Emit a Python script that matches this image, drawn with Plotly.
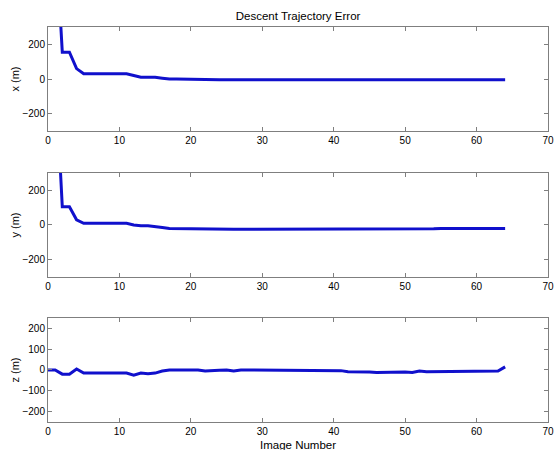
import plotly.graph_objects as go

image_number = list(range(0, 65))

x_err = [1500, 880, 155, 155, 60, 30, 30, 30, 30, 30, 30, 30, 20, 10, 10, 10, 5, 0, 0, 0,
         0, 0, -2, -3, -4, -5, -5, -6, -6, -7, -7, -6, -7, -6, -6, -6, -6, -7, -6, -6,
         -6, -6, -7, -6, -6, -7, -6, -6, -6, -6, -6, -6, -6, -6, -6, -6, -5, -5, -5, -5,
         -5, -5, -5, -5, -5]
y_err = [1500, 900, 105, 105, 30, 10, 10, 10, 10, 10, 10, 10, 0, -5, -5, -8, -15, -20, -20, -20,
         -20, -20, -20, -21, -22, -23, -24, -25, -25, -25, -25, -24, -25, -24, -24, -24, -24, -25, -24, -24,
         -25, -24, -24, -24, -24, -23, -23, -23, -23, -23, -23, -22, -22, -22, -22, -20, -20, -20, -20, -20,
         -20, -20, -20, -20, -20]
z_err = [0, 0, -20, -20, 5, -15, -15, -15, -15, -15, -15, -15, -25, -15, -18, -15, -5, 0, 0, 0,
         0, 0, -5, -2, -1, 0, -5, 0, 0, 0, 0, 0, 0, 0, 0, 0, 0, 0, -3, -3,
         -3, -3, -8, -8, -8, -10, -12, -11, -11, -10, -10, -12, -5, -8, -8, -5, -5, -5, -5, -5,
         -5, -5, -5, -5, 15]

title_text = "Descent Trajectory Error"
y_labels = ["x (m)", "y (m)", "z (m)"]
x_label = "Image Number"

line_color = "#1010cc"
font_family = "Liberation Sans, Arial, sans-serif"

fig = go.Figure()
series = [x_err, y_err, z_err]
for i, s in enumerate(series):
    fig.add_trace(go.Scatter(
        x=image_number, y=s, mode="lines",
        line=dict(color=line_color, width=3),
        xaxis="x" if i == 0 else f"x{i+1}",
        yaxis="y" if i == 0 else f"y{i+1}",
        showlegend=False, cliponaxis=True,
    ))

domains = [[0.7367, 1.0], [0.3671, 0.6304], [0.0, 0.2633]]
yranges = [[-300, 300], [-300, 300], [-250, 250]]
ytickvals = [[-200, 0, 200], [-200, 0, 200], [-200, -100, 0, 100, 200]]

axis_common = dict(
    showline=True, linecolor="#7f7f7f", linewidth=1, mirror="ticks",
    ticks="inside", ticklen=4, tickcolor="#7f7f7f",
    showgrid=False, zeroline=False, automargin=False,
    tickfont=dict(size=10, color="black", family=font_family),
)

layout = dict(
    width=554, height=450,
    margin=dict(l=48, r=6, t=27, b=28, autoexpand=False),
    paper_bgcolor="white", plot_bgcolor="white",
    font=dict(family=font_family, color="black"),
    title=dict(text=title_text, x=0.538, xanchor="center", y=0.965, yanchor="middle",
               font=dict(size=11.5, color="black"), automargin=False),
    annotations=[dict(text=x_label, xref="paper", yref="paper", x=0.5, y=-0.058,
                      xanchor="center", yanchor="middle", showarrow=False,
                      font=dict(size=11.5, color="black"))],
)
for i in range(3):
    xa = "xaxis" if i == 0 else f"xaxis{i+1}"
    ya = "yaxis" if i == 0 else f"yaxis{i+1}"
    yname = "y" if i == 0 else f"y{i+1}"
    xname = "x" if i == 0 else f"x{i+1}"
    layout[xa] = dict(axis_common, range=[0, 70], tickvals=list(range(0, 71, 10)),
                      domain=[0, 1], anchor=yname)
    layout[ya] = dict(axis_common, range=yranges[i], tickvals=ytickvals[i],
                      domain=domains[i], anchor=xname,
                      title=dict(text=y_labels[i], standoff=0, font=dict(size=11, color="black")))

fig.update_layout(**layout)
fig.write_html("out.html", config={"displayModeBar": False},
               post_script="document.body.style.margin='0px';document.body.style.overflow='hidden';")
